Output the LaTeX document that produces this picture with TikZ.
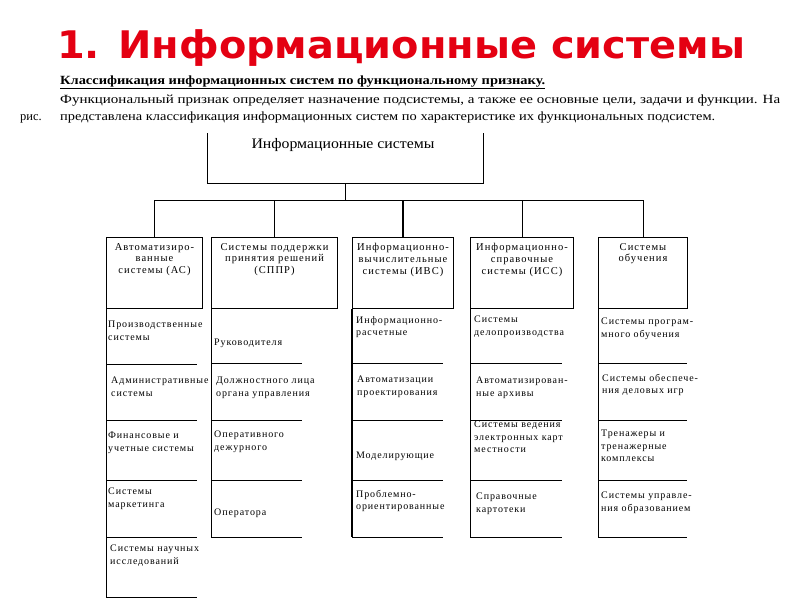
\documentclass[tikz,border=0pt]{standalone}
\usepackage{fontspec}
\usepackage{graphicx}
\setmainfont{Liberation Serif}
\newfontfamily\titlefont{DejaVu Sans}
\newfontfamily\hdrfont[LetterSpace=10]{Liberation Serif}
\newfontfamily\itemfont[LetterSpace=9]{Liberation Serif}
\definecolor{titlered}{RGB}{228,0,18}
\newcommand{\fitw}[2]{\resizebox{#1}{\height}{#2}}
\tikzset{
  ln/.style={line width=1pt},
  hdrbox/.style={draw, line width=1pt, inner sep=0, minimum height=71, anchor=north west},
  hdrtext/.style={font=\hdrfont\fontsize{10.5}{11.8}\selectfont, align=center, anchor=north, inner sep=0},
  itemtext/.style={font=\itemfont\fontsize{10}{12.4}\selectfont, align=left, anchor=north west, inner sep=0},
}
\begin{document}
\begin{tikzpicture}[x=1pt,y=-1pt]
\useasboundingbox (0,0) rectangle (800,600);
\fill[white] (0,0) rectangle (800,600);

% title and introduction
\node[anchor=base west, inner sep=0, text=titlered] (title) at (57,58)
  {\fitw{688pt}{\titlefont\bfseries\fontsize{38}{40}\selectfont 1. Информационные системы}};
\node[anchor=base west, inner sep=0] (subtitle) at (60,84)
  {\fitw{485pt}{\bfseries\fontsize{12.5}{14}\selectfont\underline{Классификация информационных систем по функциональному признаку.}}};
\node[anchor=base west, inner sep=0] (para1) at (60,103)
  {\fitw{720pt}{\fontsize{12.5}{14}\selectfont Функциональный признак определяет назначение подсистемы, а также ее основные цели, задачи и функции. На}};
\node[anchor=base west, inner sep=0] (para2a) at (20,120)
  {\fontsize{12.5}{14}\selectfont рис.};
\node[anchor=base west, inner sep=0] (para2b) at (60,120)
  {\fitw{655pt}{\fontsize{12.5}{14}\selectfont представлена классификация информационных систем по характеристике их функциональных подсистем.}};

% root box (open at the top)
\node[minimum width=276, minimum height=50, anchor=north west, inner sep=0] (top) at (207,133) {};
\draw[ln] (top.north west) |- (top.south east) -- (top.north east);
\node[anchor=base, inner sep=0] (toplabel) at (343,148)
  {\fitw{183pt}{\fontsize{14.5}{16}\selectfont Информационные системы}};

% header boxes
\node[hdrbox, minimum width=96] (h1) at (106,237) {};
\node[hdrbox, minimum width=126] (h2) at (211,237) {};
\node[hdrbox, minimum width=101] (h3) at (352,237) {};
\node[hdrbox, minimum width=103] (h4) at (470,237) {};
\node[hdrbox, minimum width=89] (h5) at (598,237) {};

\node[hdrtext] (t1) at (h1.north |- 0,243) {Автоматизиро-\\ванные\\системы (АС)};
\node[hdrtext] (t2) at (h2.north |- 0,243) {Системы поддержки\\принятия решений\\(СППР)};
\node[hdrtext] (t3) at (h3.north |- 0,243) {Информационно-\\вычислительные\\системы (ИВС)};
\node[hdrtext] (t4) at (h4.north |- 0,243) {Информационно-\\справочные\\системы (ИСС)};
\node[hdrtext] (t5) at (h5.north |- 0,243) {Системы\\обучения};

% connectors
\coordinate (bus) at (345,200);
\draw[ln] (top.south) -- (top.south |- bus);
\draw[ln] (h1.north |- bus) -- (h5.north |- bus);
\draw[ln] (h1.north |- bus) -- (h1.north);
\draw[ln] (h2.north |- bus) -- (h2.north);
\draw[line width=1.6pt] (h3.north |- bus) -- (h3.north);
\draw[ln] (h4.north |- bus) -- (h4.north);
\draw[ln] (h5.north |- bus) -- (h5.north);

% column 1
\draw[ln] (h1.south west) -- (106,597);
\foreach \yy in {364,420,480,537,597} \draw[ln] (106,\yy) -- (197,\yy);
\node[itemtext] (c1a) at (108,321) {Производственные\\системы};
\node[itemtext] (c1b) at (111,377) {Административные\\системы};
\node[itemtext] (c1c) at (108,432) {Финансовые и\\учетные системы};
\node[itemtext] (c1d) at (108,488) {Системы\\маркетинга};
\node[itemtext] (c1e) at (110,545) {Системы научных\\исследований};

% column 2
\draw[ln] (h2.south west) -- (211,537);
\foreach \yy in {363,420,480,537} \draw[ln] (211,\yy) -- (302,\yy);
\node[itemtext] (c2a) at (214,339) {Руководителя};
\node[itemtext] (c2b) at (216,377) {Должностного лица\\органа управления};
\node[itemtext] (c2c) at (214,431) {Оперативного\\дежурного};
\node[itemtext] (c2d) at (214,509) {Оператора};

% column 3
\draw[line width=1.6pt] (h3.south west) -- (352,537);
\foreach \yy in {363,420,480,537} \draw[ln] (352,\yy) -- (443,\yy);
\node[itemtext] (c3a) at (356,316) {Информационно-\\расчетные};
\node[itemtext] (c3b) at (357,376) {Автоматизации\\проектирования};
\node[itemtext] (c3c) at (356,452) {Моделирующие};
\node[itemtext] (c3d) at (356,490) {Проблемно-\\ориентированные};

% column 4
\draw[ln] (h4.south west) -- (470,537);
\foreach \yy in {363,420,480,537} \draw[ln] (470,\yy) -- (562,\yy);
\node[itemtext] (c4a) at (474,316) {Системы\\делопроизводства};
\node[itemtext] (c4b) at (476,377) {Автоматизирован-\\ные архивы};
\node[itemtext] (c4c) at (474,421) {Системы ведения\\электронных карт\\местности};
\node[itemtext] (c4d) at (476,493) {Справочные\\картотеки};

% column 5
\draw[ln] (h5.south west) -- (598,537);
\foreach \yy in {363,420,480,537} \draw[ln] (598,\yy) -- (687,\yy);
\node[itemtext] (c5a) at (601,318) {Системы програм-\\много обучения};
\node[itemtext] (c5b) at (602,374) {Системы обеспече-\\ния деловых игр};
\node[itemtext] (c5c) at (601,430) {Тренажеры и\\тренажерные\\комплексы};
\node[itemtext] (c5d) at (601,492) {Системы управле-\\ния образованием};
\end{tikzpicture}
\end{document}
